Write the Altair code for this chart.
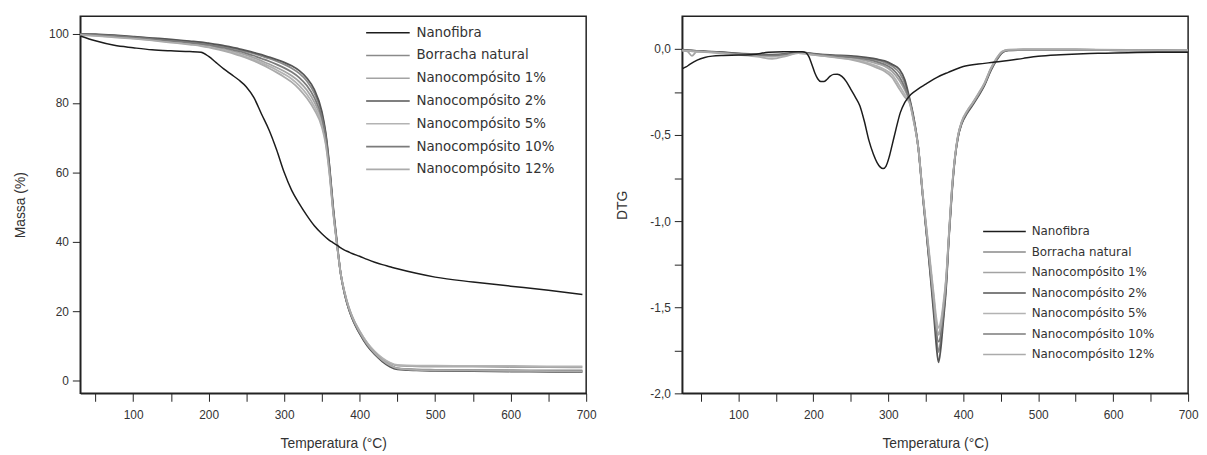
import altair as alt
import pandas as pd

SERIES = ["Nanofibra", "Borracha natural", "Nanocompósito 1%", "Nanocompósito 2%",
          "Nanocompósito 5%", "Nanocompósito 10%", "Nanocompósito 12%"]
COLORS = ["#1c1c1c", "#8a8a8a", "#a3a3a3", "#555555", "#b3b3b3", "#7b7b7b", "#ababab"]

# ---------------- TGA (left) ----------------
T_TGA = [30, 50, 75, 100, 125, 150, 175, 190, 200, 210, 220, 230, 240, 250, 260, 270, 280, 290,
         300, 310, 320, 330, 340, 350, 355, 360, 365, 370, 375, 380, 385, 390, 400, 410, 420, 430,
         440, 450, 475, 500, 550, 600, 650, 695]

TGA_NF = [99.3, 97.9, 96.6, 95.9, 95.3, 95.0, 94.8, 94.6, 93.4, 91.6, 89.8, 88.2, 86.6, 84.6, 81.5,
          76.8, 72.2, 66.5, 60.0, 54.8, 51.0, 47.6, 44.6, 42.3, 41.3, 40.4, 39.7, 39.0, 38.2, 37.6,
          37.1, 36.6, 35.8, 34.9, 34.1, 33.4, 32.8, 32.2, 30.9, 29.8, 28.4, 27.2, 26.0, 24.8]
TGA_BN = [99.8, 99.7, 99.4, 99.0, 98.6, 98.1, 97.6, 97.3, 97.0, 96.6, 96.2, 95.8, 95.3, 94.8, 94.2,
          93.5, 92.8, 92.0, 91.1, 90.0, 88.5, 86.3, 82.8, 76.8, 71.0, 61.5, 49.5, 39.5, 30.5, 25.0,
          21.0, 18.0, 13.6, 10.2, 7.6, 5.7, 4.3, 3.5, 3.2, 3.1, 3.0, 3.0, 2.9, 2.9]
TGA_1 = [99.7, 99.5, 99.2, 98.8, 98.3, 97.8, 97.2, 96.8, 96.4, 96.0, 95.5, 95.0, 94.4, 93.8, 93.0,
         92.1, 91.2, 90.2, 89.1, 87.8, 86.1, 83.7, 80.2, 74.8, 69.5, 60.5, 48.8, 39.3, 30.7, 25.5,
         21.5, 18.5, 14.2, 10.8, 8.2, 6.3, 5.0, 4.3, 4.1, 4.0, 4.0, 3.9, 3.9, 3.8]
TGA_2 = [99.9, 99.8, 99.5, 99.1, 98.7, 98.3, 97.8, 97.5, 97.2, 96.9, 96.5, 96.1, 95.6, 95.1, 94.5,
         93.9, 93.2, 92.5, 91.7, 90.7, 89.3, 87.2, 83.8, 77.5, 71.5, 62.0, 50.0, 40.0, 30.7, 25.0,
         21.0, 18.0, 13.5, 10.0, 7.5, 5.5, 4.0, 3.2, 2.9, 2.8, 2.7, 2.6, 2.5, 2.4]
TGA_5 = [99.7, 99.4, 99.0, 98.6, 98.1, 97.6, 97.0, 96.6, 96.2, 95.7, 95.2, 94.6, 94.0, 93.3, 92.5,
         91.6, 90.6, 89.5, 88.3, 86.9, 85.0, 82.5, 79.0, 73.8, 68.7, 60.0, 48.5, 39.1, 30.8, 25.6,
         21.6, 18.6, 14.3, 10.9, 8.4, 6.5, 5.2, 4.5, 4.3, 4.3, 4.2, 4.2, 4.1, 4.1]
TGA_10 = [99.8, 99.6, 99.3, 98.9, 98.4, 97.9, 97.4, 97.0, 96.7, 96.3, 95.9, 95.4, 94.9, 94.3, 93.6,
          92.8, 92.0, 91.1, 90.1, 88.9, 87.3, 85.0, 81.5, 75.8, 70.3, 61.0, 49.0, 39.3, 30.6, 25.2,
          21.2, 18.2, 13.8, 10.3, 7.8, 5.8, 4.4, 3.5, 3.1, 3.0, 2.9, 2.8, 2.8, 2.7]
TGA_12 = [99.6, 99.3, 98.9, 98.5, 98.0, 97.4, 96.8, 96.4, 96.0, 95.5, 95.0, 94.4, 93.7, 93.0, 92.1,
          91.1, 90.0, 88.8, 87.5, 86.0, 84.0, 81.4, 78.0, 73.0, 68.1, 59.5, 48.2, 39.0, 30.7, 25.4,
          21.4, 18.4, 14.0, 10.5, 7.9, 5.9, 4.4, 3.5, 3.1, 3.0, 2.9, 2.8, 2.7, 2.6]

# ---------------- DTG (right) ----------------
T_NF_DTG = [25, 30, 35, 45, 55, 65, 80, 100, 120, 140, 160, 185, 190, 194, 198, 202, 206, 210, 214,
            218, 222, 227, 232, 238, 244, 250, 256, 262, 268, 274, 280, 285, 289, 293, 297, 301,
            305, 310, 316, 322, 330, 340, 350, 365, 380, 400, 420, 440, 460, 480, 500, 530, 560,
            590, 620, 660, 700]
DTG_NF = [-0.115, -0.105, -0.090, -0.065, -0.050, -0.042, -0.038, -0.036, -0.032, -0.020, -0.017,
          -0.017, -0.022, -0.045, -0.090, -0.140, -0.175, -0.190, -0.190, -0.178, -0.160, -0.148,
          -0.147, -0.160, -0.190, -0.235, -0.280, -0.330, -0.420, -0.530, -0.610, -0.660, -0.685,
          -0.695, -0.680, -0.630, -0.560, -0.470, -0.370, -0.310, -0.265, -0.232, -0.205, -0.165,
          -0.136, -0.102, -0.088, -0.078, -0.068, -0.055, -0.043, -0.034, -0.028, -0.025, -0.022,
          -0.020, -0.020]

T_R_DTG = [25, 32, 38, 44, 55, 75, 100, 125, 145, 165, 180, 190, 200, 225, 250, 270, 285, 295, 305,
           315, 322, 328, 334, 340, 346, 352, 357, 361, 364, 367, 370, 373, 377, 381, 385, 389, 393,
           398, 405, 412, 420, 428, 437, 445, 452, 460, 480, 550, 620, 700]
DTG_BN = [-0.006, -0.008, -0.010, -0.012, -0.015, -0.020, -0.028, -0.033, -0.036, -0.030, -0.020,
          -0.024, -0.030, -0.038, -0.045, -0.055, -0.065, -0.078, -0.100, -0.140, -0.200, -0.290,
          -0.410, -0.580, -0.860, -1.120, -1.340, -1.520, -1.660, -1.760, -1.690, -1.570, -1.380,
          -1.080, -0.820, -0.630, -0.510, -0.430, -0.370, -0.325, -0.270, -0.210, -0.120, -0.060,
          -0.020, -0.008, -0.005, -0.005, -0.008, -0.010]
DTG_1 = [-0.008, -0.015, -0.040, -0.018, -0.015, -0.022, -0.030, -0.036, -0.040, -0.032, -0.022,
         -0.026, -0.032, -0.042, -0.052, -0.068, -0.085, -0.100, -0.130, -0.185, -0.240, -0.300,
         -0.415, -0.575, -0.850, -1.100, -1.300, -1.460, -1.600, -1.660, -1.620, -1.520, -1.350,
         -1.070, -0.810, -0.625, -0.505, -0.425, -0.365, -0.320, -0.265, -0.205, -0.115, -0.055,
         -0.018, -0.006, -0.004, -0.005, -0.007, -0.009]
DTG_2 = [-0.005, -0.007, -0.009, -0.011, -0.014, -0.018, -0.026, -0.030, -0.034, -0.028, -0.018,
         -0.022, -0.028, -0.036, -0.040, -0.050, -0.060, -0.070, -0.090, -0.120, -0.180, -0.280,
         -0.400, -0.570, -0.850, -1.120, -1.360, -1.560, -1.720, -1.820, -1.740, -1.600, -1.400,
         -1.090, -0.830, -0.635, -0.515, -0.435, -0.375, -0.330, -0.275, -0.215, -0.125, -0.062,
         -0.022, -0.009, -0.006, -0.006, -0.009, -0.011]
DTG_5 = [-0.010, -0.012, -0.014, -0.016, -0.018, -0.024, -0.032, -0.040, -0.046, -0.036, -0.024,
         -0.028, -0.034, -0.046, -0.058, -0.078, -0.100, -0.120, -0.150, -0.215, -0.265, -0.305,
         -0.420, -0.570, -0.840, -1.080, -1.280, -1.440, -1.560, -1.620, -1.580, -1.490, -1.330,
         -1.060, -0.800, -0.620, -0.500, -0.420, -0.360, -0.315, -0.260, -0.200, -0.110, -0.050,
         -0.015, -0.005, -0.004, -0.004, -0.006, -0.008]
DTG_10 = [-0.007, -0.009, -0.011, -0.013, -0.016, -0.021, -0.029, -0.034, -0.038, -0.031, -0.021,
          -0.025, -0.031, -0.040, -0.048, -0.060, -0.075, -0.090, -0.115, -0.165, -0.225, -0.295,
          -0.410, -0.575, -0.855, -1.110, -1.330, -1.500, -1.640, -1.700, -1.660, -1.550, -1.370,
          -1.075, -0.815, -0.628, -0.508, -0.428, -0.368, -0.322, -0.268, -0.208, -0.118, -0.058,
          -0.019, -0.007, -0.005, -0.005, -0.008, -0.010]
DTG_12 = [-0.009, -0.011, -0.013, -0.015, -0.017, -0.023, -0.034, -0.045, -0.058, -0.040, -0.025,
          -0.029, -0.035, -0.048, -0.062, -0.085, -0.110, -0.130, -0.165, -0.235, -0.280, -0.310,
          -0.425, -0.575, -0.845, -1.090, -1.300, -1.470, -1.600, -1.650, -1.610, -1.510, -1.340,
          -1.065, -0.805, -0.622, -0.503, -0.423, -0.363, -0.318, -0.263, -0.203, -0.113, -0.052,
          -0.016, -0.006, -0.004, -0.004, -0.007, -0.009]

X_TICKS = list(range(50, 701, 50))
TGA_Y_TICKS = [0, 20, 40, 60, 80, 100]
DTG_Y_TICKS = [-2.0, -1.75, -1.5, -1.25, -1.0, -0.75, -0.5, -0.25, 0.0]


def long(temps, series_map):
    rows = []
    for name, vals in series_map.items():
        for t, v in zip(temps, vals):
            rows.append({"T": t, "v": v, "s": name})
    return pd.DataFrame(rows)


tga_rubber = long(T_TGA, {"Borracha natural": TGA_BN, "Nanocompósito 1%": TGA_1,
                          "Nanocompósito 2%": TGA_2, "Nanocompósito 5%": TGA_5,
                          "Nanocompósito 10%": TGA_10, "Nanocompósito 12%": TGA_12})
tga_nf = long(T_TGA, {"Nanofibra": TGA_NF})
dtg_rubber = long(T_R_DTG, {"Borracha natural": DTG_BN, "Nanocompósito 1%": DTG_1,
                            "Nanocompósito 2%": DTG_2, "Nanocompósito 5%": DTG_5,
                            "Nanocompósito 10%": DTG_10, "Nanocompósito 12%": DTG_12})
dtg_nf = long(T_NF_DTG, {"Nanofibra": DTG_NF})

FONT = "Liberation Sans"
LEG_FONT = "DejaVu Sans"
x_label_expr = "datum.value % 100 == 0 ? datum.label : ''"
LINE_SYMBOL = "M-4,0L4,0"


def make_panel(rubber_df, nf_df, x_dom, y_dom, y_title, y_vals, y_label_expr, legend, y_tpad):
    color = alt.Color("s:N", scale=alt.Scale(domain=SERIES, range=COLORS), legend=legend)
    x = alt.X("T:Q", scale=alt.Scale(domain=x_dom, nice=False, zero=False),
              axis=alt.Axis(title="Temperatura (°C)", values=X_TICKS, labelExpr=x_label_expr,
                            labelFlush=False, labelPadding=8, titlePadding=17))
    y = alt.Y("v:Q", scale=alt.Scale(domain=y_dom, nice=False, zero=False),
              axis=alt.Axis(title=y_title, values=y_vals, labelExpr=y_label_expr,
                            titlePadding=y_tpad))
    base_r = alt.Chart(rubber_df).mark_line(strokeWidth=1.8, interpolate="monotone", clip=True)
    base_n = alt.Chart(nf_df).mark_line(strokeWidth=1.5, interpolate="monotone", clip=True)
    r = base_r.encode(x=x, y=y, color=color, detail="s:N")
    n = base_n.encode(x=x, y=y, color=color)
    return alt.layer(r, n)


legend_left = alt.Legend(title=None, orient="none", legendX=288, legendY=10,
                         symbolType=LINE_SYMBOL, symbolSize=121, symbolStrokeWidth=1.6,
                         symbolOffset=16, labelOffset=22, labelFontSize=13.5,
                         labelFont=LEG_FONT, labelColor="#333", rowPadding=8, padding=0)
legend_right = alt.Legend(title=None, orient="none", legendX=303, legendY=211,
                          symbolType=LINE_SYMBOL, symbolSize=116, symbolStrokeWidth=1.6,
                          symbolOffset=16, labelOffset=21, labelFontSize=12,
                          labelFont=LEG_FONT, labelColor="#333", rowPadding=7.7, padding=0)

left = make_panel(tga_rubber, tga_nf, [30, 700], [-3.7, 105], "Massa (%)", TGA_Y_TICKS,
                  "datum.label", legend_left, 21).properties(width=511, height=381)

right_expr = ("abs(datum.value * 2 - round(datum.value * 2)) < 0.000001 ? "
              "replace(replace(format(datum.value, '.1f'), '.', ','), '\u2212', '-') : ''")
right = make_panel(dtg_rubber, dtg_nf, [25, 700], [-2.0, 0.19], "DTG", DTG_Y_TICKS,
                   right_expr, legend_right, 21).properties(width=511, height=381)

chart = alt.hconcat(left, right, spacing=17).resolve_scale(color="independent").properties(
    padding={"left": 5, "top": 5, "right": 0, "bottom": 0}
).configure_view(stroke="#222", strokeWidth=1.5).configure_axis(
    grid=False, domainColor="#222", domainWidth=1.5, tickColor="#222", tickSize=8,
    labelPadding=4, labelFont=FONT, labelFontSize=12, labelColor="#333",
    titleFont=FONT, titleFontSize=14, titleFontWeight="normal", titleColor="#333"
)

chart.save("out.html", embed_options={"renderer": "svg", "actions": False})
